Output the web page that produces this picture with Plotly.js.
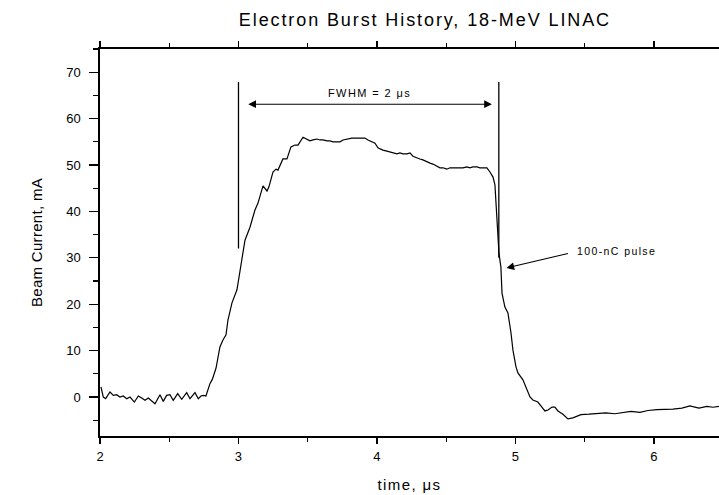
<!DOCTYPE html>
<html>
<head>
<meta charset="utf-8">
<script src="https://cdn.plot.ly/plotly-3.0.1.min.js"></script>
<style>
html,body{margin:0;padding:0;background:#fff;}
#chart{width:719px;height:495px;}
.gtitle{letter-spacing:1.9px;}
.xtitle{letter-spacing:1.4px;}
.ytitle{letter-spacing:0.3px;}
.annotation-text{letter-spacing:1.4px;}
</style>
</head>
<body>
<div id="chart"></div>
<script>
// time in microseconds
const timeUs = [
  2.007,2.024,2.041,2.072,2.096,2.120,2.144,2.168,2.193,2.217,2.248,2.277,2.301,2.325,2.349,2.373,2.397,
  2.433,2.457,2.481,2.505,2.529,2.561,2.590,2.626,2.650,2.686,2.710,2.729,2.746,2.765,2.794,2.811,
  2.838,2.866,2.888,2.910,2.924,2.953,2.989,3.004,3.025,3.047,3.083,3.119,3.141,3.170,3.177,3.206,3.220,
  3.249,3.271,3.285,3.321,3.350,3.379,3.408,3.430,3.466,3.495,3.516,
  3.538,3.567,3.588,3.610,3.639,3.661,3.682,3.711,3.733,3.755,3.783,3.819,3.856,3.892,3.913,3.935,3.964,
  3.986,4.007,4.043,4.072,4.094,4.116,4.144,4.166,4.188,4.217,4.238,4.260,4.289,4.310,4.332,4.361,4.383,
  4.404,4.433,4.455,4.477,4.505,4.527,4.549,4.578,4.599,4.621,4.650,4.671,4.693,4.722,4.744,4.765,4.794,
  4.816,4.838,4.852,4.859,4.874,4.881,4.895,4.903,4.924,4.946,4.968,4.982,5.004,5.018,5.054,5.083,5.105,
  5.126,5.162,5.191,5.213,5.235,5.264,5.285,5.307,5.343,5.379,
  5.415,5.473,5.531,5.596,5.653,5.718,5.776,5.834,5.899,5.957,6.022,6.079,6.137,6.202,6.260,6.325,6.383,6.426,6.469
];
// beam current in mA
const currentMA = [
  2.16,0.0,-0.36,1.08,0.36,0.5,0.0,0.22,-0.36,0.0,-1.08,0.22,-0.22,-0.72,-0.22,-0.94,-1.44,
  0.5,-0.94,0.36,0.5,-0.72,0.72,-0.5,0.94,-0.36,0.94,-0.36,0.22,0.36,0.22,2.88,3.8,
  6.25,10.8,12.3,13.4,16.6,20.3,23.1,25.9,30.2,33.8,36.6,40.3,41.8,45.0,45.5,44.4,45.3,
  48.5,49.1,48.9,51.3,51.3,53.9,54.3,54.3,56.0,55.6,55.2,
  55.4,55.6,55.4,55.4,55.2,55.2,55.0,55.0,55.0,55.4,55.6,55.8,55.8,55.8,55.8,55.4,55.0,
  54.7,53.7,53.2,53.0,52.8,52.6,52.4,52.6,52.4,52.4,52.6,51.9,51.5,51.3,51.1,50.6,50.4,
  50.2,49.8,49.4,49.4,49.1,49.4,49.4,49.4,49.4,49.4,49.6,49.4,49.6,49.6,49.4,49.4,49.4,
  48.5,47.4,45.7,42.5,36.6,31.0,28.0,22.4,19.4,18.1,13.8,10.1,6.5,5.2,3.7,1.5,0.0,
  -0.65,-1.08,-2.16,-3.0,-2.8,-2.16,-2.16,-3.0,-3.7,-4.7,
  -4.5,-3.8,-3.7,-3.6,-3.4,-3.6,-3.3,-3.1,-3.3,-2.9,-2.7,-2.7,-2.6,-2.4,-1.9,-2.4,-2.0,-2.2,-2.0
];
// annotation geometry (data units)
const fwhmLeft = [3.0, 32.0, 67.9];     // x, yBottom, yTop
const fwhmRight = [4.88, 30.0, 67.9];
const fwhmArrow = [3.06, 4.83, 63.1];   // xStart, xEnd, y
const fwhmLabel = ["FWHM = 2 μs", 3.945, 65.6];
const pulseLabel = ["100-nC pulse", 5.43, 31.5];
const pulseArrow = [5.39, 31.0, 4.935, 27.8]; // tail x,y -> head x,y

const titleText = "Electron Burst History, 18-MeV LINAC";
const xTitle = "time, μs";
const yTitle = "Beam Current, mA";

const font = "Liberation Sans, Arial, Helvetica, sans-serif";

const trace = {
  x: timeUs, y: currentMA, type: "scatter", mode: "lines",
  line: {color: "#000", width: 1.2}, hoverinfo: "skip", showlegend: false
};

const layout = {
  width: 719, height: 495,
  margin: {l: 100, r: 0, t: 49, b: 59, pad: 0},
  paper_bgcolor: "#fff", plot_bgcolor: "#fff",
  font: {family: font, color: "#000", size: 13},
  title: {
    text: titleText, font: {family: font, size: 18, color: "#000"},
    xref: "container", x: 0.591, xanchor: "center",
    yref: "container", y: 1 - 20/495, yanchor: "middle"
  },
  xaxis: {
    range: [2, 6.47], tick0: 2, dtick: 1,
    showgrid: false, zeroline: false,
    showline: true, linecolor: "#000", linewidth: 1.6, mirror: "ticks",
    ticks: "outside", ticklen: 6, tickwidth: 1.3, tickcolor: "#000",
    ticklabelstandoff: 2,
    minor: {dtick: 0.5, ticks: "outside", ticklen: 4, tickwidth: 1.2, tickcolor: "#000", showgrid: false},
    tickfont: {family: font, size: 13, color: "#000"},
    title: {text: xTitle, font: {family: font, size: 15, color: "#000"}, standoff: 16}
  },
  yaxis: {
    range: [-8.4, 75], tick0: 0, dtick: 10,
    showgrid: false, zeroline: false,
    showline: true, linecolor: "#000", linewidth: 1.6,
    ticks: "outside", ticklen: 9, tickwidth: 1.3, tickcolor: "#000",
    ticklabelstandoff: 6,
    minor: {dtick: 5, ticks: "outside", ticklen: 5, tickwidth: 1.2, tickcolor: "#000", showgrid: false},
    tickfont: {family: font, size: 13, color: "#000"},
    title: {text: yTitle, font: {family: font, size: 15, color: "#000"}, standoff: 20}
  },
  shapes: [
    {type: "line", xref: "x", yref: "y", x0: fwhmLeft[0], x1: fwhmLeft[0], y0: fwhmLeft[1], y1: fwhmLeft[2],
     line: {color: "#000", width: 1.3}},
    {type: "line", xref: "x", yref: "y", x0: fwhmRight[0], x1: fwhmRight[0], y0: fwhmRight[1], y1: fwhmRight[2],
     line: {color: "#000", width: 1.3}}
  ],
  annotations: [
    {xref: "x", yref: "y", x: fwhmArrow[1], y: fwhmArrow[2], axref: "x", ayref: "y", ax: fwhmArrow[0], ay: fwhmArrow[2],
     text: "", showarrow: true, arrowhead: 2, startarrowhead: 2, arrowside: "end+start",
     arrowsize: 1.4, startarrowsize: 1.4, arrowwidth: 1.1, arrowcolor: "#000"},
    {xref: "x", yref: "y", x: fwhmLabel[1], y: fwhmLabel[2], text: fwhmLabel[0], showarrow: false,
     font: {family: font, size: 11, color: "#000"}, xanchor: "center", yanchor: "middle"},
    {xref: "x", yref: "y", x: pulseArrow[2], y: pulseArrow[3], axref: "x", ayref: "y", ax: pulseArrow[0], ay: pulseArrow[1],
     text: "", showarrow: true, arrowhead: 2, arrowsize: 1.4, arrowwidth: 1.1, arrowcolor: "#000"},
    {xref: "x", yref: "y", x: pulseLabel[1], y: pulseLabel[2], text: pulseLabel[0], showarrow: false,
     font: {family: font, size: 10.5, color: "#000"}, xanchor: "left", yanchor: "middle"}
  ]
};

Plotly.newPlot("chart", [trace], layout, {staticPlot: true, displayModeBar: false});
</script>
</body>
</html>
